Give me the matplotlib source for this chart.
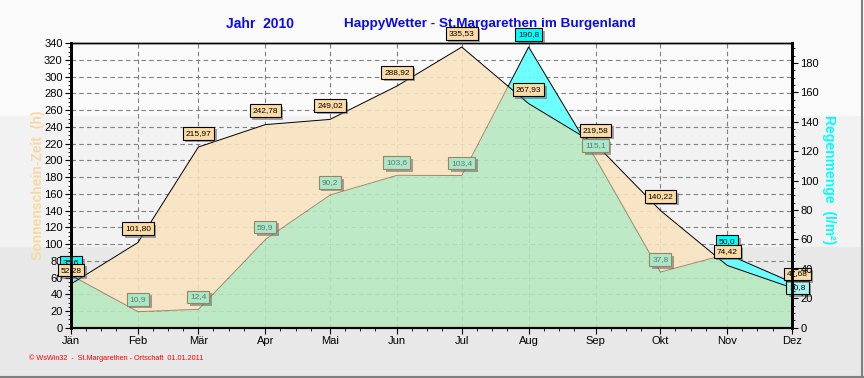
import numpy as np
import pandas as pd
import matplotlib
matplotlib.use("Agg")
import matplotlib.pyplot as plt
import matplotlib.dates as mdates
import matplotlib.patheffects as pe
from matplotlib.ticker import MultipleLocator, FixedLocator, FixedFormatter
from matplotlib.patches import Rectangle
from matplotlib.lines import Line2D

plt.rcParams['font.family'] = ['Liberation Sans', 'DejaVu Sans']

# ---------------- data ----------------
months = ['Jän', 'Feb', 'Mär', 'Apr', 'Mai', 'Jun', 'Jul', 'Aug', 'Sep', 'Okt', 'Nov', 'Dez']
month_starts = pd.date_range('2010-01-01', periods=12, freq='MS')
sunshine = [52.28, 101.80, 215.97, 242.78, 249.02, 288.92, 335.53, 267.93, 219.58, 140.22, 74.42, 47.68]
rain = [35.6, 10.9, 12.4, 59.9, 90.2, 103.6, 103.4, 190.8, 115.1, 37.8, 50.0, 30.8]
sun_labels = ['52,28', '101,80', '215,97', '242,78', '249,02', '288,92', '335,53',
              '267,93', '219,58', '140,22', '74,42', '47,68']
rain_labels = ['35,6', '10,9', '12,4', '59,9', '90,2', '103,6', '103,4',
               '190,8', '115,1', '37,8', '50,0', '30,8']
left_ticks = list(range(0, 341, 20))
right_ticks = list(range(0, 181, 20))

SUN_MAX = 340
RAIN_MAX = 193.3

# ---------------- figure ----------------
fig = plt.figure(figsize=(8.64, 3.78), dpi=100)
fig.patch.set_facecolor('#fafafa')
for y0, h, c in [(0.0, 0.347, '#e8e8e8'), (0.347, 0.346, '#f2f2f2'), (0.693, 0.307, '#fafafa')]:
    fig.add_artist(Rectangle((0, y0), 1, h, transform=fig.transFigure,
                             facecolor=c, edgecolor='none', zorder=-10))
fig.add_artist(Line2D([0, 1], [0.003, 0.003], transform=fig.transFigure, color='#808080', lw=1.5))
fig.add_artist(Line2D([0.998, 0.998], [0, 1], transform=fig.transFigure, color='#808080', lw=1.5))

ax = fig.add_axes([71 / 864, 1 - 327.7 / 378, (792 - 71) / 864, (327.7 - 43.3) / 378])
ax.patch.set_alpha(0)
ax2 = ax.twinx()
ax2.set_ylim(0, RAIN_MAX)

x = mdates.date2num(month_starts)
sun = np.array(sunshine, dtype=float)
factor = SUN_MAX / RAIN_MAX
rn = np.array(rain, dtype=float) * factor

# dense sampling of the linear segments (for region splitting)
xd = np.linspace(x[0], x[-1], 4000)
xd = np.unique(np.concatenate([xd, x]))
sd = np.interp(xd, x, sun)
rd = np.interp(xd, x, rn)
lo = np.minimum(sd, rd)

alpha = 0.88
ax.fill_between(xd, 0, lo, color='#b6e8c0', alpha=alpha, lw=0, zorder=2)
ax.fill_between(xd, rd, sd, where=sd >= rd, interpolate=True, color='#f8e4c0', alpha=alpha, lw=0, zorder=2)
ax.fill_between(xd, sd, rd, where=rd >= sd, interpolate=True, color='#66ffff', alpha=0.95, lw=0, zorder=2)

# lines
ax.plot(xd, np.where(rd <= sd, rd, np.nan), color='#9c8a6a', lw=0.7, zorder=3)
ax.plot(xd, np.where(rd >= sd, rd, np.nan), color='black', lw=0.7, zorder=4)
ax.plot(x, sun, color='black', lw=0.7, zorder=4)

ax.set_xlim(x[0], x[-1])
ax.set_ylim(0, SUN_MAX)

# ticks
ax.xaxis.set_major_locator(FixedLocator(x))
ax.xaxis.set_major_formatter(FixedFormatter(months))
ax.xaxis.set_minor_locator(mdates.DayLocator(bymonthday=[8, 15, 22]))
ax.set_yticks(left_ticks)
ax.yaxis.set_minor_locator(MultipleLocator(5))
ax2.set_yticks(right_ticks)
ax2.yaxis.set_minor_locator(MultipleLocator(5))
for a in (ax, ax2):
    a.tick_params(which='major', length=4, width=0.8, labelsize=8, colors='black', pad=2)
    a.tick_params(which='minor', length=2, width=0.6)

ax.grid(which='major', color='#808080', linestyle=(0, (4, 3)), linewidth=0.8)
ax.set_axisbelow(True)

for a in (ax, ax2):
    a.spines['left'].set_linewidth(2)
    a.spines['right'].set_linewidth(2)
    a.spines['top'].set_linewidth(1)
    a.spines['bottom'].set_linewidth(1.5)

# data labels
shadow = [pe.SimplePatchShadow(offset=(1.8, -1.8), shadow_rgbFace='#606060', alpha=0.55), pe.Normal()]

def label(xv, yv, txt, fc, ec, tc, dx=0, dy=9):
    ann = ax.annotate(txt, (xv, yv), xytext=(dx, dy), textcoords='offset points',
                      ha='center', va='center', fontsize=6, color=tc,
                      bbox=dict(boxstyle='square,pad=0.35', fc=fc, ec=ec, lw=0.8),
                      zorder=7, annotation_clip=False)
    ann.get_bbox_patch().set_path_effects(shadow)

n = len(months)
for i in range(n):
    last = i == n - 1
    if rn[i] > sun[i]:
        fc, ec, tc = ('#a8f4ee' if last else '#00ffff'), 'black', 'black'
    else:
        fc, ec, tc = '#a6e8c8', '#9c8460', '#707070'
    label(x[i], rn[i], rain_labels[i], fc, ec, tc, dx=4 if last else 0, dy=-3.8 if last else 9)
for i in range(n):
    last = i == n - 1
    label(x[i], sun[i], sun_labels[i], '#fcdca6', 'black', 'black', dx=4 if last else 0, dy=10)

# titles
fig.text(260 / 864, 1 - 24 / 378, 'Jahr  2010', ha='center', va='center',
         fontsize=10, fontweight='bold', color='#0a0af0')
fig.text(490 / 864, 1 - 24 / 378, 'HappyWetter - St.Margarethen im Burgenland', ha='center',
         va='center', fontsize=9.7, fontweight='bold', color='#0a0af0')
fig.text(38 / 864, 1 - 185 / 378, 'Sonnenschein-Zeit  (h)', rotation=90, ha='center', va='center',
         fontsize=10, fontweight='bold', color='#f8d9a0')
fig.text(829 / 864, 1 - 180 / 378, 'Regenmenge  (l/m²)', rotation=-90, ha='center', va='center',
         fontsize=10, fontweight='bold', color='#00ffff')
fig.text(29 / 864, 1 - 358 / 378, '© WsWin32  -  St.Margarethen - Ortschaft  01.01.2011',
         ha='left', va='center', fontsize=5.2, color='#ff0000')

fig.savefig('out.png', dpi=100, facecolor=fig.get_facecolor())
